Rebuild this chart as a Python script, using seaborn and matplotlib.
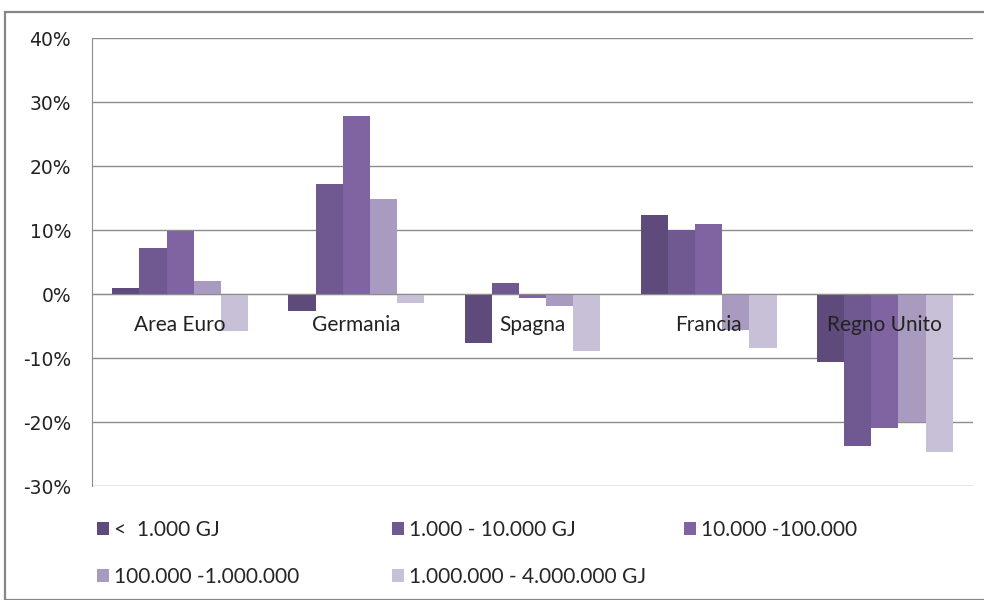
"""Variazione dei prezzi per classe di consumo (grafico a barre raggruppate)."""

import matplotlib

matplotlib.use("Agg")
import matplotlib.pyplot as plt
import numpy as np
import pandas as pd
import seaborn as sns
from matplotlib.patches import Rectangle
from matplotlib.ticker import FuncFormatter

# dati (variazione percentuale)
paesi = ["Area Euro", "Germania", "Spagna", "Francia", "Regno Unito"]
classi = [
    "<  1.000 GJ",
    "1.000 - 10.000 GJ",
    "10.000 -100.000",
    "100.000 -1.000.000",
    "1.000.000 - 4.000.000 GJ",
]
sotto_1000 = [0.009, -0.026, -0.076, 0.123, -0.106]
da_1000_a_10000 = [0.072, 0.172, 0.017, 0.100, -0.238]
da_10000_a_100000 = [0.098, 0.278, -0.006, 0.109, -0.210]
da_100000_a_1mln = [0.020, 0.148, -0.019, -0.056, -0.200]
da_1mln_a_4mln = [-0.058, -0.014, -0.089, -0.084, -0.247]
colori = ["#5e4a7b", "#705890", "#8064a2", "#a99bbf", "#c8c0d7"]

serie = [sotto_1000, da_1000_a_10000, da_10000_a_100000, da_100000_a_1mln, da_1mln_a_4mln]
df = pd.DataFrame(
    [(p, c, v) for c, valori in zip(classi, serie) for p, v in zip(paesi, valori)],
    columns=["paese", "classe", "valore"],
)

sns.set_style("white")
plt.rcParams["font.family"] = ["DejaVu Sans"]

fig = plt.figure(figsize=(9.84, 6.0), dpi=100)
ax = fig.add_axes([92 / 984, 1 - 486 / 600, 881 / 984, 448 / 600])

sns.barplot(
    data=df, x="paese", y="valore", hue="classe", order=paesi, hue_order=classi,
    palette=colori, saturation=1, width=0.77, gap=0, ax=ax, legend=False,
)
for patch in ax.patches:
    patch.set_edgecolor("none")

grigio = "#8c8c8c"
ax.set_xlim(-0.5, 4.5)
ax.set_ylim(-0.3, 0.4)
ax.set_yticks(np.arange(-0.3, 0.41, 0.1))
ax.yaxis.set_major_formatter(FuncFormatter(lambda v, _: f"{v:.0%}"))
ax.set_axisbelow(True)
ax.yaxis.grid(True, color=grigio, linewidth=1)
ax.xaxis.set_zorder(3)

for lato in ["top", "right"]:
    ax.spines[lato].set_visible(False)
ax.spines["left"].set_color(grigio)
ax.spines["bottom"].set_color(grigio)
ax.spines["bottom"].set_position(("data", 0))
ax.spines["bottom"].set_zorder(3)

ax.tick_params(axis="y", length=6, color=grigio, pad=9, labelsize=13.5, labelcolor="#222222")
ax.set_xticks(np.arange(-0.5, 4.6, 1), minor=True)
ax.tick_params(axis="x", which="minor", length=5.5, color=grigio, direction="out")
ax.tick_params(axis="x", which="major", length=0, pad=15)
ax.set_xticks(range(len(paesi)))
ax.set_xticklabels(paesi, fontsize=15, family="Lato", color="#222222")
ax.set_xlabel("")
ax.set_ylabel("")

# legenda su tre colonne, ordinata per righe come nell'originale
handles = [Rectangle((0, 0), 1, 1, facecolor=c, edgecolor="none") for c in colori]
colonne = [(97, [0, 3]), (392, [1, 4]), (684, [2])]
for x0, idx in colonne:
    fig.legend(
        [handles[i] for i in idx], [classi[i] for i in idx],
        loc="upper left", bbox_to_anchor=(x0 / 984, 1 - 520 / 600),
        frameon=False, borderpad=0, borderaxespad=0,
        handlelength=0.58, handleheight=0.58, handletextpad=0.25,
        labelspacing=1.3, prop={"family": "Lato", "size": 15},
    )

# cornice esterna dell'area del grafico
fig.patches.append(
    Rectangle((5 / 984, 0), 1.0, 1 - 12 / 600, transform=fig.transFigure,
              fill=False, edgecolor="#868686", linewidth=1.6)
)

fig.savefig("out.png", dpi=100)
plt.close(fig)
